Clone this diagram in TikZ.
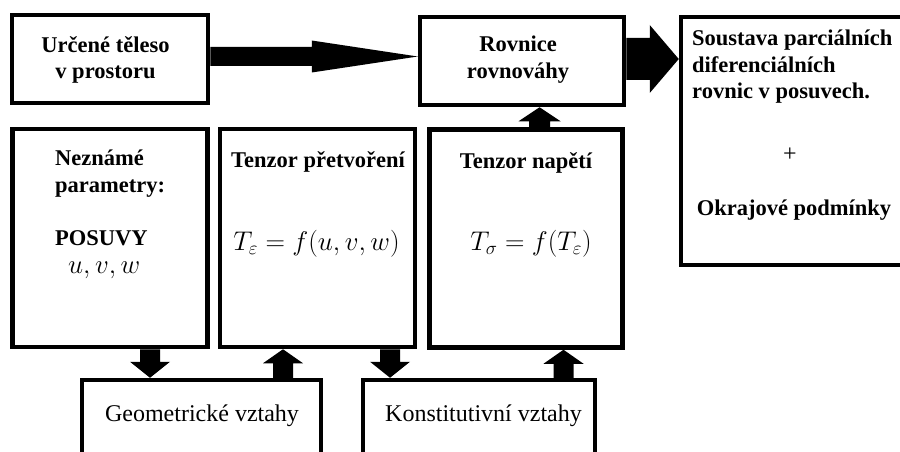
\RequirePackage{fix-cm}
\documentclass[tikz,border=0pt]{standalone}
\usepackage{fontspec}
\setmainfont{Liberation Serif}
\usetikzlibrary{calc}
\newcommand\blockarrow[5]{%
  \path ($(#2)!#5!(#1)$) coordinate (ba);
  \fill ($(#1)!#3!90:(#2)$) -- ($(ba)!#3!90:(#2)$) -- ($(ba)!#4!90:(#2)$) -- (#2)
     -- ($(ba)!#4!-90:(#2)$) -- ($(ba)!#3!-90:(#2)$) -- ($(#1)!#3!-90:(#2)$) -- cycle;}
\begin{document}
\begin{tikzpicture}[x=1pt,y=-1pt,
  box/.style={draw, line width=4.5pt, inner sep=0pt},
  boldtext/.style={font=\fontsize{22.5}{27}\selectfont\bfseries, inner sep=0pt, align=center},
  bottomtext/.style={font=\fontsize{24}{28}\selectfont, inner sep=0pt},
  formula/.style={font=\fontsize{27}{32}\selectfont, inner sep=0pt}]
\useasboundingbox (0,0) rectangle (900,452);
\fill[white] (0,0) rectangle (900,452);
\begin{scope}
\clip (0,0) rectangle (900,452);
% boxes
\node[box, minimum width=196pt, minimum height=88pt]  (A)  at (110,59)    {};
\node[box, minimum width=204pt, minimum height=88pt]  (R)  at (522,61)    {};
\node[box, minimum width=259pt, minimum height=248pt] (S)  at (810.5,141) {};
\node[box, minimum width=195pt, minimum height=218pt] (N)  at (110,238)   {};
\node[box, minimum width=195pt, minimum height=218pt] (TP) at (317.5,238) {};
\node[box, minimum width=193pt, minimum height=218pt] (TN) at (526,238.5) {};
\node[box, minimum width=239pt, minimum height=120pt] (G)  at (201.5,440) {};
\node[box, minimum width=232pt, minimum height=120pt] (K)  at (479,440)   {};
% texts (multi-line nodes: base = baseline of last line)
\node[boldtext, anchor=base] (tA) at (105.5,79) {Určené těleso\\v prostoru};
\node[boldtext, anchor=base] (tR) at (518,78) {Rovnice\\rovnováhy};
\node[boldtext, align=left, anchor=base west, font=\fontsize{22.5}{26.5}\selectfont\bfseries] (tS) at (692,99) {Soustava parciálních\\diferenciálních\\rovnic v posuvech.};
\node[font=\fontsize{24}{28}\selectfont, inner sep=0pt] (plus) at (790,155) {+};
\node[boldtext, anchor=base] (tOk) at (794,215) {Okrajové podmínky};
\node[boldtext, align=left, anchor=base west] (tN) at (55,192) {Neznámé\\parametry:};
\node[boldtext, anchor=base west] (tPos) at (55,245) {POSUVY};
\node[formula, anchor=base west] (tuvw) at (68,273) {$u,v,w$};
\node[boldtext, anchor=base] (tTP) at (318,167) {Tenzor přetvoření};
\node[formula, anchor=base] (fTP) at (316.5,250) {$T_\varepsilon = f(u,v,w)$};
\node[boldtext, anchor=base] (tTN) at (526,168) {Tenzor napětí};
\node[formula, anchor=base] (fTN) at (531,250) {$T_\sigma = f(T_\varepsilon)$};
\node[bottomtext, anchor=base] (tG) at (202,421) {Geometrické vztahy};
\node[bottomtext, anchor=base] (tK) at (483.5,421) {Konstitutivní vztahy};
% arrow axes
\coordinate (yA) at (0,56.5);
\coordinate (yB) at (0,59);
\coordinate (xC) at (539.5,0);
\coordinate (xD) at (150,0);
\coordinate (xE) at (283,0);
\coordinate (xF) at (390,0);
\coordinate (xG) at (563.5,0);
% arrows
\coordinate (s1) at (A.east |- yA);  \coordinate (t1) at (R.west |- yA);
\blockarrow{s1}{t1}{9.5pt}{16pt}{106pt}
\coordinate (s2) at (R.east |- yB);  \coordinate (t2) at (S.west |- yB);
\blockarrow{s2}{t2}{21pt}{34pt}{29pt}
\coordinate (s3) at (xC |- TN.north); \coordinate (t3) at (xC |- R.south);
\blockarrow{s3}{t3}{10.5pt}{21pt}{14pt}
\coordinate (s4) at (xD |- N.south);  \coordinate (t4) at (xD |- G.north);
\blockarrow{s4}{t4}{10pt}{20pt}{16pt}
\coordinate (s5) at (xE |- G.north);  \coordinate (t5) at (xE |- TP.south);
\blockarrow{s5}{t5}{10pt}{20pt}{14pt}
\coordinate (s6) at (xF |- TP.south); \coordinate (t6) at (xF |- K.north);
\blockarrow{s6}{t6}{10pt}{20pt}{16pt}
\coordinate (s7) at (xG |- K.north);  \coordinate (t7) at (xG |- TN.south);
\blockarrow{s7}{t7}{10pt}{20pt}{14pt}
\end{scope}
\end{tikzpicture}
\end{document}
